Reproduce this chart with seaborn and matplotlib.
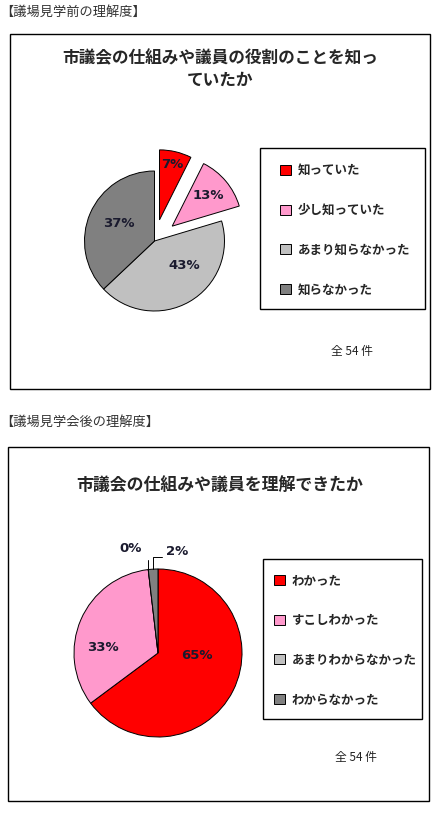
import matplotlib
matplotlib.use("Agg")
import matplotlib.pyplot as plt
from matplotlib.patches import Rectangle
import seaborn as sns
import numpy as np

sns.set_theme(style="white")
plt.rcParams['font.family'] = ['Noto Sans CJK JP', 'DejaVu Sans']

# data
before_labels = ["知っていた", "少し知っていた", "あまり知らなかった", "知らなかった"]
before_counts = [4, 7, 23, 20]
after_labels = ["わかった", "すこしわかった", "あまりわからなかった", "わからなかった"]
after_counts = [35, 18, 0, 1]
pct_before = ["7%", "13%", "43%", "37%"]
pct_after = ["65%", "33%", "0%", "2%"]

colors = ["#FF0000", "#FF99CC", "#C0C0C0", "#808080"]

W, H = 438, 814
LIM = 1.4
fig = plt.figure(figsize=(W / 100, H / 100), dpi=100)
fig.patch.set_facecolor("white")


def fx(x):
    return x / W


def fy(y):
    return 1 - y / H


def box(x0, y0, x1, y1):
    fig.patches.append(Rectangle((fx(x0), fy(y1)), fx(x1 - x0), (y1 - y0) / H,
                                 transform=fig.transFigure, fill=False,
                                 edgecolor="black", linewidth=1.0))


def pie_axes(cx, cy, r):
    s = 2 * LIM * r
    ax = fig.add_axes([fx(cx - s / 2), fy(cy + s / 2), s / W, s / H])
    return ax


def fix_axes(ax):
    ax.set_xlim(-LIM, LIM)
    ax.set_ylim(-LIM, LIM)
    ax.set_aspect("equal")
    ax.axis("off")


# ---- top chart ----
fig.text(fx(0), fy(12), "【議場見学前の理解度】", fontsize=9.5, va="center", color="#333333")
box(10, 34, 430, 389)
fig.text(fx(220), fy(58), "市議会の仕組みや議員の役割のことを知っ", fontsize=12,
         fontweight="bold", ha="center", va="center")
fig.text(fx(220), fy(80), "ていたか", fontsize=12, fontweight="bold", ha="center", va="center")

ax1 = pie_axes(154.5, 241, 70)
wedges1, _ = ax1.pie(before_counts, colors=colors, startangle=90, counterclock=False,
                     explode=[0.31, 0.33, 0, 0],
                     wedgeprops=dict(edgecolor="black", linewidth=0.7))
fix_axes(ax1)
pos1 = [(0.25, 1.10), (0.764, 0.657), (0.42, -0.343), (-0.507, 0.257)]
for t, p in zip(pct_before, pos1):
    ax1.text(p[0], p[1], t, ha="center", va="center", fontsize=9.5,
             fontweight="bold", color="#1a1a2e", family="DejaVu Sans")

box(260, 148, 425, 309)
fig.legend(wedges1, before_labels, loc="upper left",
           bbox_to_anchor=(fx(280), fy(164)), frameon=False,
           prop=dict(weight="bold", size=9), labelspacing=2.15,
           handlelength=0.85, handleheight=0.85, handletextpad=0.55,
           borderpad=0, borderaxespad=0)
fig.text(fx(352), fy(352), "全 54 件", fontsize=8.5, ha="center", va="center", color="#222222")

# ---- bottom chart ----
fig.text(fx(0), fy(422), "【議場見学会後の理解度】", fontsize=9.5, va="center", color="#333333")
box(8, 447, 429, 801)
fig.text(fx(220), fy(485), "市議会の仕組みや議員を理解できたか", fontsize=12.2,
         fontweight="bold", ha="center", va="center")

ax2 = pie_axes(158, 653, 84)
wedges2, _ = ax2.pie(after_counts, colors=colors, startangle=90, counterclock=False,
                     wedgeprops=dict(edgecolor="black", linewidth=0.7))
fix_axes(ax2)
pos2 = [(0.464, -0.024), (-0.655, 0.06), (-0.33, 1.24), (0.226, 1.21)]
for t, p in zip(pct_after, pos2):
    ax2.text(p[0], p[1], t, ha="center", va="center", fontsize=9.5,
             fontweight="bold", color="#1a1a2e", family="DejaVu Sans")

# leader lines for the thin slices
th0 = np.deg2rad(wedges2[2].theta1)
ax2.plot([np.cos(th0), np.cos(th0)], [np.sin(th0), 1.107], color="black", lw=0.7)
th3 = np.deg2rad((wedges2[3].theta1 + wedges2[3].theta2) / 2)
ax2.plot([np.cos(th3), np.cos(th3), 0.05], [np.sin(th3), 1.143, 1.143], color="black", lw=0.7)

box(263, 559, 422, 719)
fig.legend(wedges2, after_labels, loc="upper left",
           bbox_to_anchor=(fx(274), fy(574)), frameon=False,
           prop=dict(weight="bold", size=9), labelspacing=2.15,
           handlelength=0.85, handleheight=0.85, handletextpad=0.55,
           borderpad=0, borderaxespad=0)
fig.text(fx(356), fy(758), "全 54 件", fontsize=8.5, ha="center", va="center", color="#222222")

fig.savefig("out.png", dpi=100, facecolor="white")
